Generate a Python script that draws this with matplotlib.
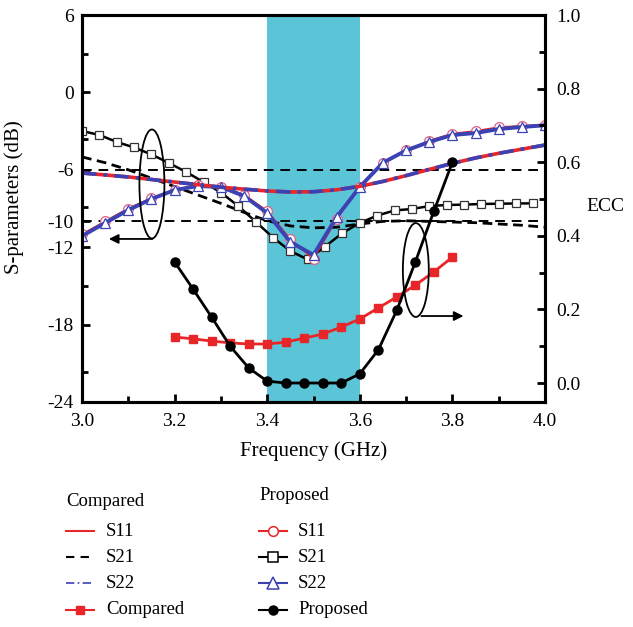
import matplotlib
matplotlib.use("Agg")
import matplotlib.pyplot as plt
from matplotlib.patches import Ellipse
from matplotlib.lines import Line2D

plt.rcParams['font.family'] = ['Liberation Serif', 'DejaVu Serif']

# ---------------- data ----------------
freq = [3.00, 3.05, 3.10, 3.15, 3.20, 3.25, 3.30, 3.35, 3.40, 3.45, 3.50,
        3.55, 3.60, 3.65, 3.70, 3.75, 3.80, 3.85, 3.90, 3.95, 4.00]

cmp_s11 = [-6.25, -6.40, -6.55, -6.75, -6.95, -7.15, -7.35, -7.50, -7.64, -7.72, -7.70,
           -7.55, -7.28, -6.90, -6.45, -5.97, -5.50, -5.08, -4.72, -4.40, -4.08]
cmp_s21 = [-5.00, -5.45, -6.00, -6.65, -7.30, -7.95, -8.60, -9.30, -9.95, -10.35, -10.50,
           -10.45, -10.20, -10.00, -9.95, -10.00, -10.05, -10.10, -10.20, -10.30, -10.45]
cmp_s22 = [-6.25, -6.40, -6.56, -6.75, -6.95, -7.15, -7.35, -7.50, -7.64, -7.72, -7.70,
           -7.55, -7.28, -6.90, -6.45, -5.97, -5.50, -5.08, -4.72, -4.40, -4.08]

prop_s11 = [-11.00, -10.00, -9.00, -8.20, -7.55, -7.20, -7.30, -7.95, -9.20, -11.40, -12.90,
            -9.80, -7.30, -5.50, -4.50, -3.75, -3.20, -3.00, -2.70, -2.60, -2.50]
prop_s22 = [-11.13, -10.12, -9.12, -8.26, -7.57, -7.26, -7.33, -8.03, -9.35, -11.60, -12.60,
            -9.66, -7.33, -5.45, -4.50, -3.84, -3.30, -3.15, -2.84, -2.68, -2.55]

freq_s21p = [3.0000, 3.0375, 3.0750, 3.1125, 3.1500, 3.1875, 3.2250, 3.2625, 3.3000,
             3.3375, 3.3750, 3.4125, 3.4500, 3.4875, 3.5250, 3.5625, 3.6000, 3.6375,
             3.6750, 3.7125, 3.7500, 3.7875, 3.8250, 3.8625, 3.9000, 3.9375, 3.9750]
prop_s21 = [-2.99, -3.30, -3.84, -4.27, -4.81, -5.47, -6.17, -6.95, -7.76,
            -8.81, -10.02, -11.25, -12.30, -12.95, -11.95, -10.90, -10.12, -9.55,
            -9.15, -9.04, -8.81, -8.73, -8.70, -8.65, -8.63, -8.61, -8.60]

freq_ecc = [3.20, 3.24, 3.28, 3.32, 3.36, 3.40, 3.44, 3.48,
            3.52, 3.56, 3.60, 3.64, 3.68, 3.72, 3.76, 3.80]
ecc_cmp = [0.125, 0.120, 0.114, 0.109, 0.106, 0.106, 0.111, 0.122,
           0.133, 0.152, 0.174, 0.204, 0.234, 0.266, 0.302, 0.342]
ecc_prop = [0.329, 0.255, 0.179, 0.100, 0.041, 0.005, 0.000, 0.000,
            0.000, 0.000, 0.025, 0.090, 0.198, 0.329, 0.467, 0.600]

band = [3.4, 3.6]
ref_levels = [-6, -10]

x_ticks = [3.0, 3.2, 3.4, 3.6, 3.8, 4.0]
x_labels = ['3.0', '3.2', '3.4', '3.6', '3.8', '4.0']
yl_ticks = [6, 0, -6, -10, -12, -18, -24]
yl_labels = ['6', '0', '-6', '-10', '-12', '-18', '-24']
yr_ticks = [0.0, 0.2, 0.4, 0.6, 0.8, 1.0]
yr_labels = ['0.0', '0.2', '0.4', '0.6', '0.8', '1.0']

# ---------------- styles ----------------
RED = '#E8262A'
BLUE = '#3A42B4'
CYAN = '#5CC4D7'

fig = plt.figure(figsize=(6.33, 6.27), dpi=100)
ax = fig.add_axes([82/633, 1-402/627, 463/633, 387/627])
ax2 = ax.twinx()

ax.axvspan(band[0], band[1], color=CYAN, zorder=0, lw=0)
for lv in ref_levels:
    ax.axhline(lv, color='black', lw=1.4, ls=(0, (5, 3.5)), zorder=1)

ax.plot(freq, cmp_s21, color='black', lw=2.0, ls=(0, (3.5, 2)), zorder=3)
ax.plot(freq_s21p, prop_s21, color='black', lw=1.8, marker='s', ms=6,
        mfc='white', mec='#333333', mew=0.9, zorder=4)
ax.plot(freq, prop_s11, color=RED, lw=1.4, marker='o', ms=7,
        mfc='white', mec='#E06080', mew=0.9, zorder=4)
ax.plot(freq, prop_s22, color=BLUE, lw=2.8, marker='^', ms=7.5,
        mfc='white', mec=BLUE, mew=0.9, zorder=5)
ax.plot(freq, cmp_s11, color=RED, lw=2.6, zorder=6)
ax.plot(freq, cmp_s22, color=BLUE, lw=2.6, ls=(0, (4, 2, 1, 2)), zorder=7)

ax2.plot(freq_ecc, ecc_cmp, color=RED, lw=2.0, marker='s', ms=6,
         mfc=RED, mec=RED, zorder=5)
ax2.plot(freq_ecc, ecc_prop, color='black', lw=2.0, marker='o', ms=6.5,
         mfc='black', mec='black', zorder=6)

# annotations: ellipses + arrows
ax.add_patch(Ellipse((3.151, -7.1), 0.054, 8.45, fill=False, ec='black', lw=1.3, zorder=8))
ax.annotate('', xy=(3.052, -11.36), xytext=(3.158, -11.36),
            arrowprops=dict(arrowstyle='-|>', color='black', lw=1.3, mutation_scale=14), zorder=8)
ax2.add_patch(Ellipse((3.721, 0.307), 0.056, 0.255, fill=False, ec='black', lw=1.3, zorder=8))
ax2.annotate('', xy=(3.830, 0.182), xytext=(3.727, 0.182),
             arrowprops=dict(arrowstyle='-|>', color='black', lw=1.3, mutation_scale=14), zorder=8)

# axes formatting
ax.set_xlim(3.0, 4.0)
ax.set_ylim(-24, 6)
ax2.set_ylim(-0.0516, 1.0)
ax.set_xticks(x_ticks)
ax.set_xticklabels(x_labels)
ax.set_xticks([3.1, 3.3, 3.5, 3.7, 3.9], minor=True)
ax.set_yticks(yl_ticks)
ax.set_yticklabels(yl_labels)
ax.set_yticks([3, -3.6, -8.85, -15, -21.7], minor=True)
ax2.set_yticks(yr_ticks)
ax2.set_yticklabels(yr_labels)
ax2.set_yticks([0.1, 0.3, 0.5, 0.7, 0.9], minor=True)

for a in (ax, ax2):
    a.tick_params(which='major', direction='in', length=6, width=2.0, labelsize=14)
    a.tick_params(which='minor', direction='in', length=4, width=2.0)
    for sp in a.spines.values():
        sp.set_linewidth(2.2)
ax.tick_params(axis='x', pad=8)
ax.tick_params(axis='y', pad=6)
ax2.tick_params(axis='y', pad=8)

ax.set_xlabel('Frequency (GHz)', fontsize=15, labelpad=8)
ax.set_ylabel('S-parameters (dB)', fontsize=15)
ax.yaxis.set_label_coords(-0.125, 0.53)
ax2.set_ylabel('ECC', fontsize=14, rotation=0, va='center', ha='center')
ax2.yaxis.set_label_coords(1.13, 0.505)

# ---------------- legend (manual, figure pixel space) ----------------
lax = fig.add_axes([0, 0, 1, 1], zorder=-1)
lax.set_xlim(0, 633)
lax.set_ylim(627, 0)
lax.axis('off')

leg_fs = 13.5
lax.text(66, 502, 'Compared', fontsize=leg_fs, va='center', ha='left')
lax.text(259, 496, 'Proposed', fontsize=leg_fs, va='center', ha='left')
rows = [531, 557, 583, 610]
col1 = [
    ('S11', dict(color=RED, lw=1.5)),
    ('S21', dict(color='black', lw=1.5, ls=(0, (4, 3)))),
    ('S22', dict(color=BLUE, lw=1.2, ls=(0, (5, 2, 1, 2)))),
    ('Compared', dict(color=RED, lw=1.5, marker='s', ms=6, mfc=RED, mec=RED)),
]
col2 = [
    ('S11', dict(color=RED, lw=1.5, marker='o', ms=7, mfc='white', mec=RED, mew=1.1)),
    ('S21', dict(color='black', lw=1.5, marker='s', ms=6.5, mfc='white', mec='black', mew=1.1)),
    ('S22', dict(color=BLUE, lw=1.5, marker='^', ms=8, mfc='white', mec=BLUE, mew=1.1)),
    ('Proposed', dict(color='black', lw=1.5, marker='o', ms=6.5, mfc='black', mec='black')),
]
for (x0, x1, xt, col) in [(66, 94, 106, col1), (259, 287, 298, col2)]:
    for yy, (lab, st) in zip(rows, col):
        st = dict(st)
        mk = st.pop('marker', None)
        ms = st.pop('ms', None)
        mfc = st.pop('mfc', None)
        mec = st.pop('mec', None)
        mew = st.pop('mew', 1.0)
        lax.add_line(Line2D([x0, x1], [yy, yy], **st))
        if mk is not None:
            lax.add_line(Line2D([(x0 + x1) / 2], [yy], marker=mk, ms=ms, mfc=mfc,
                                mec=mec, mew=mew, ls='none'))
        lax.text(xt, yy, lab, fontsize=leg_fs, va='center', ha='left')

fig.savefig('out.png', dpi=100)
